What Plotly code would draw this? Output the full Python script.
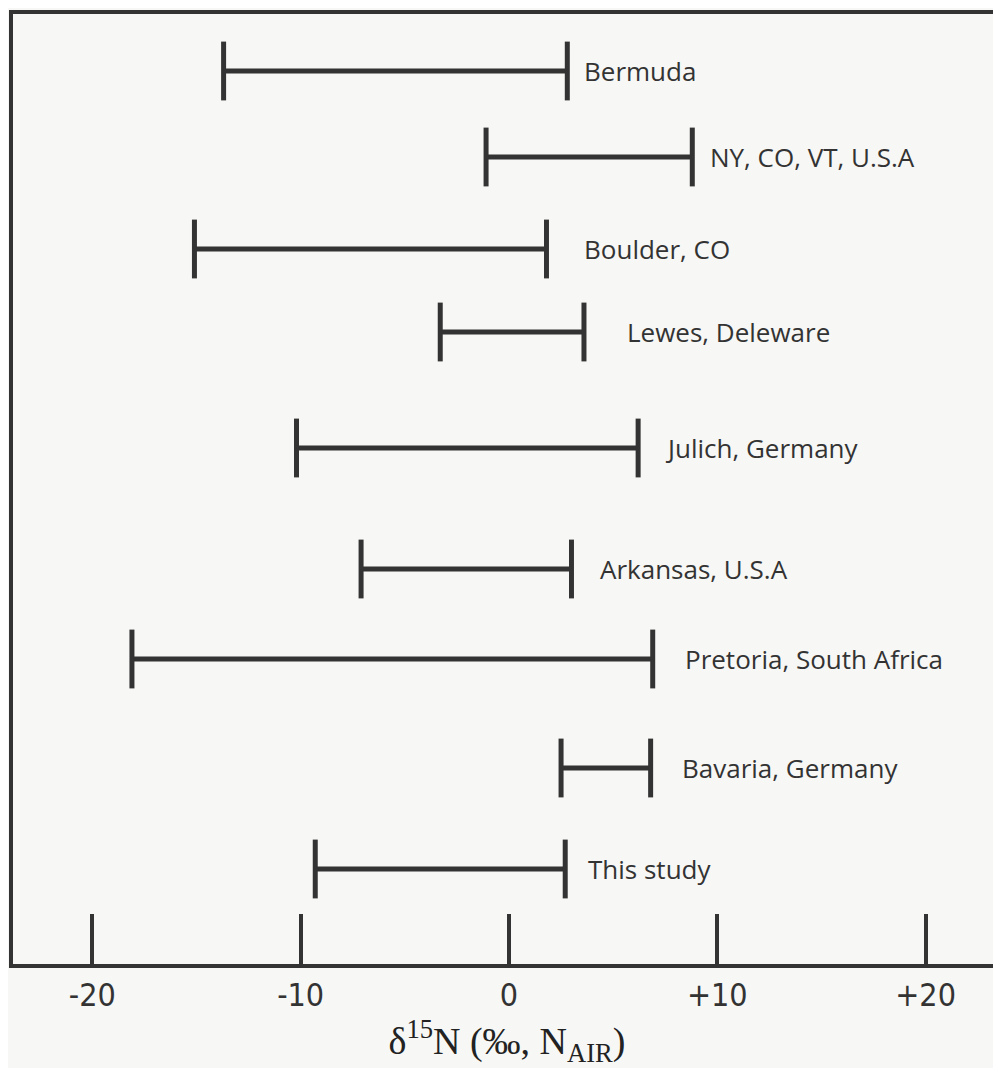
import plotly.graph_objects as go

sites = ["Bermuda", "NY, CO, VT, U.S.A", "Boulder, CO", "Lewes, Deleware",
         "Julich, Germany", "Arkansas, U.S.A", "Pretoria, South Africa",
         "Bavaria, Germany", "This study"]
low = [-13.7, -1.1, -15.1, -3.3, -10.2, -7.1, -18.1, 2.5, -9.3]
high = [2.8, 8.8, 1.8, 3.6, 6.2, 3.0, 6.9, 6.8, 2.7]
tick_vals = [-20, -10, 0, 10, 20]
tick_text = ["-20", "-10", "0", "+10", "+20"]

# layout: vertical row positions (top-down) and label gaps in px
row_y = [71, 157, 249, 332, 448, 569, 659, 768, 869]
label_gap = [15, 16, 36, 41, 25, 27, 30, 29, 21]

ink = "#333333"
fig = go.Figure()
for name, lo, hi, y, gap in zip(sites, low, high, row_y, label_gap):
    fig.add_trace(go.Scatter(
        x=[lo, hi], y=[y, y], mode="lines+markers",
        line=dict(color=ink, width=5),
        marker=dict(symbol="line-ns", size=42, line=dict(color=ink, width=5)),
        showlegend=False, hoverinfo="skip"))
    fig.add_annotation(x=hi, y=y, text=name, showarrow=False,
                       xanchor="left", yanchor="middle", xshift=gap,
                       font=dict(family="Open Sans, Liberation Sans, sans-serif",
                                 size=26, color="#333"))

fig.update_layout(
    width=993, height=1060,
    margin=dict(l=5, r=0, t=6, b=104),
    paper_bgcolor="#f7f7f5", plot_bgcolor="#f7f7f5",
    xaxis=dict(range=[-23.81, 23.62], tickvals=tick_vals, ticktext=tick_text,
               ticks="inside", ticklen=50, tickwidth=4, tickcolor=ink,
               showline=True, linewidth=4, linecolor=ink, mirror=True,
               showgrid=False, zeroline=False,
               tickfont=dict(family="Liberation Sans Narrow, DejaVu Sans Condensed, sans-serif",
                             size=32, color="#333"),
               title=dict(text="δ<sup>15</sup>N (‰, N<sub>AIR</sub>)",
                          font=dict(family="Liberation Serif, serif", size=38, color="#222"),
                          standoff=2)),
    yaxis=dict(range=[964, 14], showline=True, linewidth=4, linecolor=ink,
               showticklabels=False, ticks="", showgrid=False, zeroline=False),
)
fig.write_html("out.html")
